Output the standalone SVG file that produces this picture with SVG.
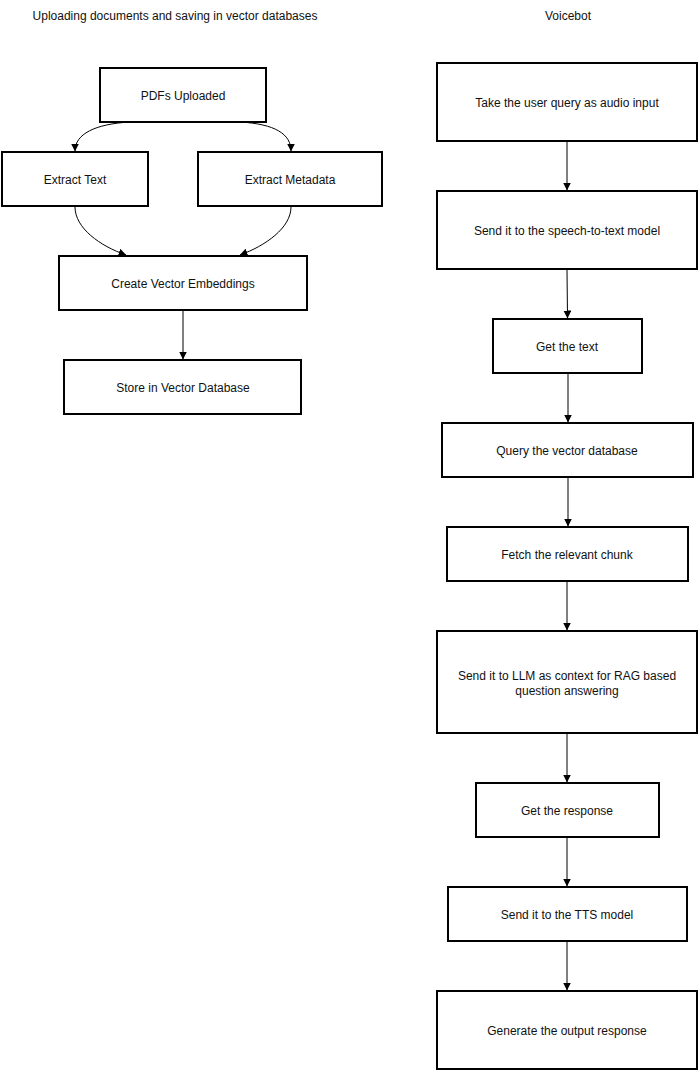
<svg xmlns="http://www.w3.org/2000/svg" width="698" height="1070" viewBox="0 0 698 1070">
<style>
  .box { fill: #ffffff; stroke: #000000; stroke-width: 2; }
  .lbl { font-family: "Liberation Sans", Arial, sans-serif; font-size: 12px; fill: #111111; text-anchor: middle; dominant-baseline: central; }
  .title { font-family: "Liberation Sans", Arial, sans-serif; font-size: 12px; fill: #111111; text-anchor: middle; dominant-baseline: central; }
  .edge { fill: none; stroke: #000000; stroke-width: 1; marker-end: url(#arrow); }
</style>
<defs>
  <marker id="arrow" viewBox="0 0 8 8" refX="7.5" refY="4" markerWidth="8" markerHeight="8" markerUnits="userSpaceOnUse" orient="auto">
    <path d="M0,0 L8,4 L0,8 Z" fill="#000000"/>
  </marker>
</defs>
<rect width="698" height="1070" fill="#ffffff"/>
<text class="title" x="175" y="16">Uploading documents and saving in vector databases</text>
<text class="title" x="568" y="16">Voicebot</text>

<g id="connectors">
  <path class="edge" d="M130,122 C95,124 75,134 75,151"/>
  <path class="edge" d="M240,122 C275,124 291,134 291,151"/>
  <path class="edge" d="M75,207 C75,228 100,246 126,255"/>
  <path class="edge" d="M291,207 C291,228 265,246 240,255"/>
  <path class="edge" d="M183,311 L183,359" style="stroke:#555555;stroke-width:1.5"/>
  <path class="edge" d="M567,142 L567,190"/>
  <path class="edge" d="M567,270 L567.5,318"/>
  <path class="edge" d="M568,374 L568,422"/>
  <path class="edge" d="M568,478 L568,526"/>
  <path class="edge" d="M567,582 L567,630"/>
  <path class="edge" d="M567,734 L567,782"/>
  <path class="edge" d="M567,838 L567,886"/>
  <path class="edge" d="M567,942 L567,990"/>
</g>

<g id="pdfs"><rect class="box" x="100" y="68" width="166" height="54"/><text class="lbl" x="183" y="96">PDFs Uploaded</text></g>
<g id="extract-text"><rect class="box" x="2" y="152" width="146" height="54"/><text class="lbl" x="75" y="180">Extract Text</text></g>
<g id="extract-metadata"><rect class="box" x="198" y="152" width="184" height="54"/><text class="lbl" x="290" y="180">Extract Metadata</text></g>
<g id="embeddings"><rect class="box" x="59" y="256" width="248" height="54"/><text class="lbl" x="183" y="284">Create Vector Embeddings</text></g>
<g id="store"><rect class="box" x="64" y="360" width="237" height="54"/><text class="lbl" x="183" y="388">Store in Vector Database</text></g>

<g id="v1"><rect class="box" x="437" y="63" width="260" height="78"/><text class="lbl" x="567" y="103">Take the user query as audio input</text></g>
<g id="v2"><rect class="box" x="437" y="191" width="260" height="78"/><text class="lbl" x="567" y="231">Send it to the speech-to-text model</text></g>
<g id="v3"><rect class="box" x="493" y="319" width="149" height="54"/><text class="lbl" x="567" y="347">Get the text</text></g>
<g id="v4"><rect class="box" x="442" y="423" width="251" height="54"/><text class="lbl" x="567" y="451">Query the vector database</text></g>
<g id="v5"><rect class="box" x="447" y="527" width="241" height="54"/><text class="lbl" x="567" y="555">Fetch the relevant chunk</text></g>
<g id="v6"><rect class="box" x="437" y="631" width="260" height="102"/><text class="lbl" x="567" y="676">Send it to LLM as context for RAG based</text><text class="lbl" x="567" y="691">question answering</text></g>
<g id="v7"><rect class="box" x="476" y="783" width="183" height="54"/><text class="lbl" x="567" y="811">Get the response</text></g>
<g id="v8"><rect class="box" x="448" y="887" width="239" height="54"/><text class="lbl" x="567" y="915">Send it to the TTS model</text></g>
<g id="v9"><rect class="box" x="437" y="991" width="260" height="78"/><text class="lbl" x="567" y="1031">Generate the output response</text></g>
</svg>
